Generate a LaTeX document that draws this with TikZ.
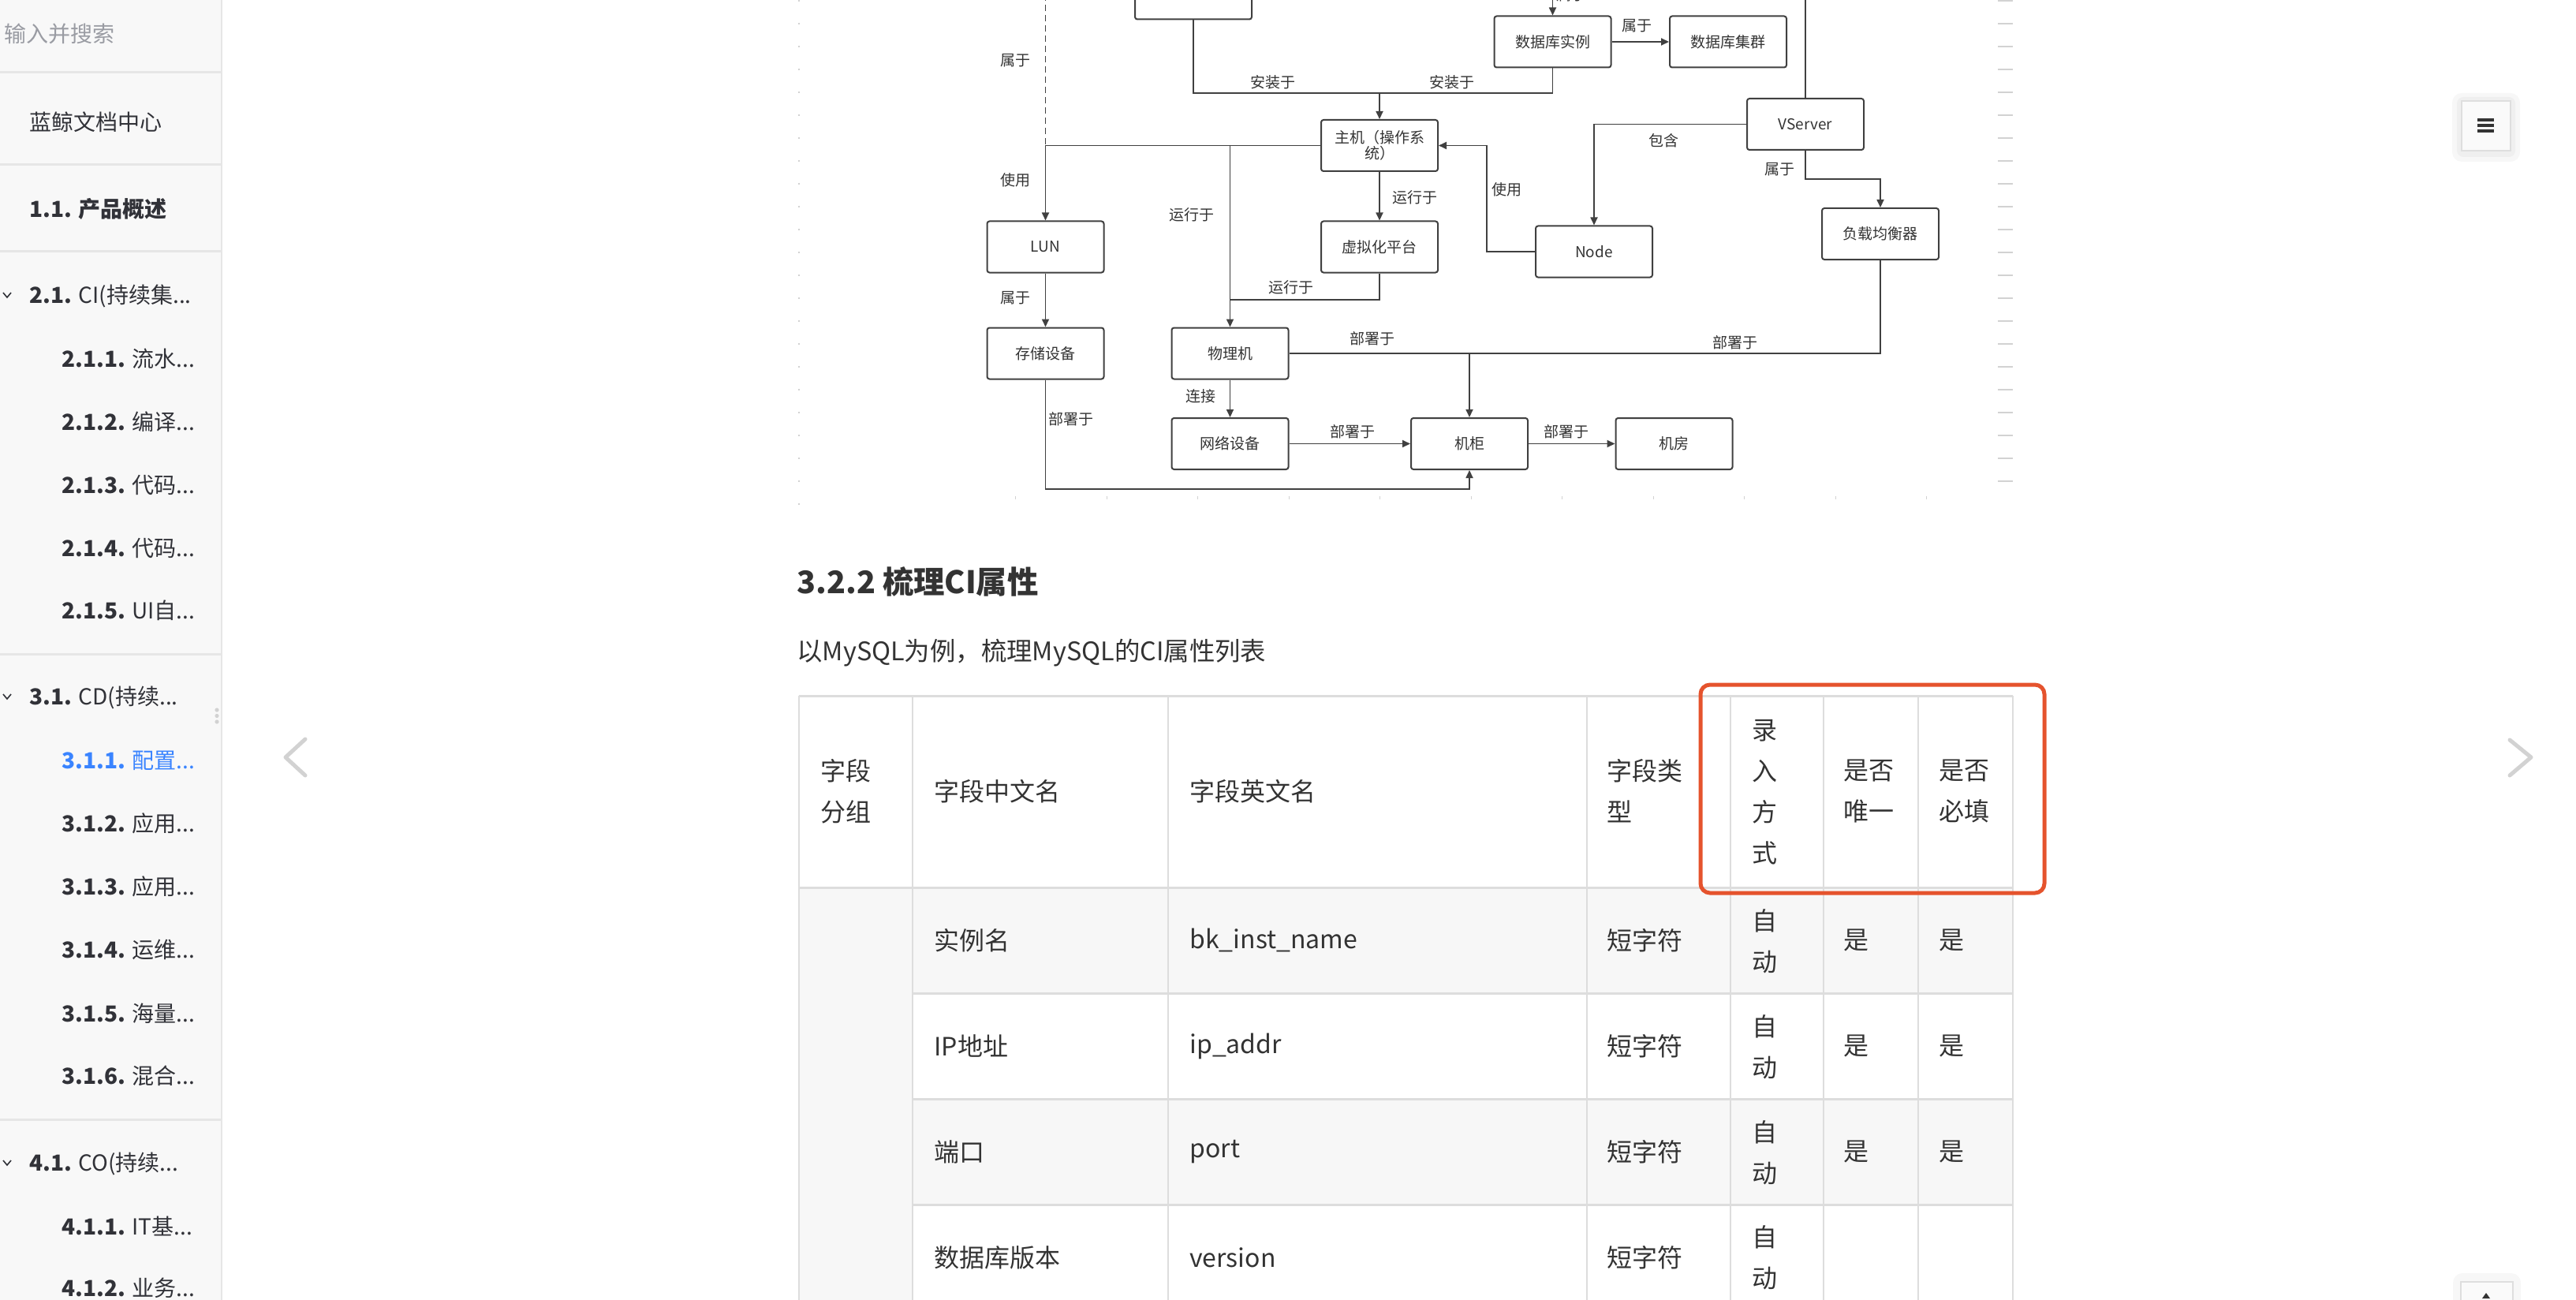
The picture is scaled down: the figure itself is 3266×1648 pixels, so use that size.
\documentclass[tikz,border=0pt]{standalone}
\usepackage{fontspec}
\setmainfont{Noto Sans CJK SC}
\usepackage{xcolor}
\usetikzlibrary{arrows.meta}
\definecolor{linec}{HTML}{404040}
\definecolor{txt}{HTML}{333333}
\definecolor{sidebg}{HTML}{F8F8F8}
\definecolor{sideln}{HTML}{E6E6E6}
\definecolor{sidetxt}{HTML}{313238}
\definecolor{hint}{HTML}{9A9CA3}
\definecolor{activeblue}{HTML}{3A84FF}
\definecolor{rowgray}{HTML}{F7F7F7}
\definecolor{tabline}{HTML}{DDDDDD}
\definecolor{markred}{HTML}{E5532D}
\definecolor{tick}{HTML}{D2D2D2}

\begin{document}
\begin{tikzpicture}[x=0.5pt,y=-0.5pt,
    ent/.style={draw=linec, line width=1pt, rounded corners=1.5pt, minimum width=74pt, minimum height=32.5pt, inner sep=1pt, align=center, text=txt, font=\fontsize{9.5}{8}\selectfont},
    rel/.style={inner sep=0pt, text=txt, font=\fontsize{9.5}{11}\selectfont},
    link/.style={draw=linec, line width=0.9pt},
    arr/.style={link, -{Triangle[length=5pt,width=4.5pt]}},
    side/.style={anchor=west, inner sep=0pt, text=sidetxt, font=\fontsize{14}{16}\selectfont},
    cell/.style={anchor=west, inner sep=0pt, align=left, text=txt, font=\fontsize{16}{26}\selectfont},
    nav/.style={draw=tick, line width=2.5pt, line cap=round, line join=round}]
                \useasboundingbox (0,0) rectangle (3266,1648);
                \clip (0,0) rectangle (3266,1648);

                % sidebar
                \fill [sidebg] (0,0) rectangle (281,1648);
                \draw [sideln, line width=1pt] (281,0) to (281,1648);
                \draw [sideln, line width=1.5pt] (0,92) to (280,92);
                \draw [sideln, line width=1.5pt] (0,209) to (280,209);
                \draw [sideln, line width=1.5pt] (0,319) to (280,319);
                \draw [sideln, line width=1.5pt] (0,829) to (280,829);
                \draw [sideln, line width=1.5pt] (0,1419) to (280,1419);
                \node [side, text=hint] (search) at (5,43) {输入并搜索};
                \node [side] (home) at (37,155) {蓝鲸文档中心};
                \node [side] (s11) at (37,265) {\bfseries 1.1. 产品概述};
                \node [side] (s21) at (37,375) {\bfseries 2.1. \mdseries CI(持续集...};
                \node [side] (s211) at (78,455) {\bfseries 2.1.1. \mdseries 流水...};
                \node [side] (s212) at (78,535) {\bfseries 2.1.2. \mdseries 编译...};
                \node [side] (s213) at (78,615) {\bfseries 2.1.3. \mdseries 代码...};
                \node [side] (s214) at (78,695) {\bfseries 2.1.4. \mdseries 代码...};
                \node [side] (s215) at (78,774) {\bfseries 2.1.5. \mdseries UI自...};
                \node [side] (s31) at (37,884) {\bfseries 3.1. \mdseries CD(持续...};
                \node [side, text=activeblue] (s311) at (78,964) {\bfseries 3.1.1. \mdseries 配置...};
                \node [side] (s312) at (78,1044) {\bfseries 3.1.2. \mdseries 应用...};
                \node [side] (s313) at (78,1124) {\bfseries 3.1.3. \mdseries 应用...};
                \node [side] (s314) at (78,1204) {\bfseries 3.1.4. \mdseries 运维...};
                \node [side] (s315) at (78,1285) {\bfseries 3.1.5. \mdseries 海量...};
                \node [side] (s316) at (78,1364) {\bfseries 3.1.6. \mdseries 混合...};
                \node [side] (s41) at (37,1475) {\bfseries 4.1. \mdseries CO(持续...};
                \node [side] (s411) at (78,1554) {\bfseries 4.1.1. \mdseries IT基...};
                \node [side] (s412) at (78,1633) {\bfseries 4.1.2. \mdseries 业务...};
                \draw [sidetxt, line width=0.8pt] (4,371) to (9,377) to (14,371);
                \draw [sidetxt, line width=0.8pt] (4,880) to (9,886) to (14,880);
                \draw [sidetxt, line width=0.8pt] (4,1471) to (9,1477) to (14,1471);
                \fill [tick] (275,900) circle (1.3pt);
                \fill [tick] (275,907.5) circle (1.3pt);
                \fill [tick] (275,915) circle (1.3pt);

                % page controls
                \draw [nav] (387,937) to (362,960) to (387,983);
                \draw [nav] (3182,938) to (3209,960) to (3182,983);
                \fill [black, opacity=0.03, rounded corners=6pt] (3109,118) rectangle (3195,205);
                \fill [black, opacity=0.03, rounded corners=4pt] (3115,123) rectangle (3189,199);
                \draw [draw=black!13, fill=black!2, line width=1pt] (3121,128) rectangle (3183,191);
                \draw [txt, line width=1.6pt] (3141,152) to (3162,152);
                \draw [txt, line width=1.6pt] (3141,159) to (3162,159);
                \draw [txt, line width=1.6pt] (3141,166) to (3162,166);
                \fill [black, opacity=0.03, rounded corners=6pt] (3110,1614) rectangle (3196,1680);
                \draw [draw=black!13, fill=black!2, line width=1pt] (3120,1625) rectangle (3186,1670);
                \fill [txt] (3152,1639) to (3157,1646) to (3147,1646) to cycle;

                % grid marks of the drawing
                \draw [tick, line width=1pt, dash pattern=on 1pt off 13.5pt] (1013,0) to (1013,640);
                \draw [tick, line width=9.5pt, dash pattern=on 0.8pt off 13.7pt] (2542,0) to (2542,620);
                \draw [tick, line width=2pt, dash pattern=on 0.7pt off 57.05pt] (1287,631) to (2450,631);

                % model diagram
                \node [ent] (mid) at (1513,-8) {};
                \node [ent] (host) at (1749,184.5) {主机（操作系\\统）};
                \node [ent] (virt) at (1749,313) {虚拟化平台};
                \node [ent] (lun) at (1325.5,313) {LUN};
                \node [ent] (store) at (1325.5,448) {存储设备};
                \node [ent] (phys) at (1559.5,448) {物理机};
                \node [ent] (netdev) at (1559.5,562.5) {网络设备};
                \node [ent] (rack) at (1863,562.5) {机柜};
                \node [ent] (room) at (2122.5,562.5) {机房};
                \node [ent] (dbinst) at (1968.5,53) {数据库实例};
                \node [ent] (dbclus) at (2191,53) {数据库集群};
                \node [ent] (vserver) at (2289,157.5) {VServer};
                \node [ent] (knode) at (2021,319) {Node};
                \node [ent] (lb) at (2384,296.5) {负载均衡器};

                \coordinate (topL) at (1325.5,-20);
                \coordinate (topI) at (1968.5,-20);
                \coordinate (topV) at (2289,-20);
                \coordinate (instJ) at (1749,118);
                \coordinate (virtJ) at (1559.5,380);
                \coordinate (useJ) at (1885,184.5);
                \coordinate (rackJ) at (1863,448);
                \coordinate (botJ) at (1863,620);
                \coordinate (lbJ) at (2384,227);

                \draw [link, dash pattern=on 4pt off 2.5pt] (topL) |- (host.west);
                \draw [arr] (host.west) -| (lun.north);
                \draw [arr] (host.west) -| (phys.north);
                \draw [link] (mid.south) |- (instJ);
                \draw [link] (dbinst.south) |- (instJ);
                \draw [arr] (instJ) to (host.north);
                \draw [arr] (host) to (virt);
                \draw [link] (virt.south) |- (virtJ);
                \draw [arr] (lun) to (store);
                \draw [arr] (phys) to (netdev);
                \draw [arr] (netdev) to (rack);
                \draw [arr] (phys.east) -| (rack.north);
                \draw [link] (lb.south) |- (rackJ);
                \draw [arr] (store.south) |- (botJ) to (rack.south);
                \draw [arr] (rack) to (room);
                \draw [arr] (dbinst) to (dbclus);
                \draw [arr] (topI) to (dbinst.north);
                \draw [link] (vserver.north) to (topV);
                \draw [arr] (vserver.west) -| (knode.north);
                \draw [arr] (knode.west) -| (useJ) to (host.east);
                \draw [arr] (vserver.south) |- (lbJ) to (lb.north);

                \node [rel] (lTop) at (1287,77) {属于};
                \node [rel] (lUseLun) at (1287,228) {使用};
                \node [rel] (lLun) at (1287,378) {属于};
                \node [rel] (lStore) at (1358,531) {部署于};
                \node [rel] (lRunPhys) at (1511,272) {运行于};
                \node [rel] (lRunVirt) at (1637,364) {运行于};
                \node [rel] (lHostVirt) at (1794,250) {运行于};
                \node [rel] (lInstA) at (1614,104) {安装于};
                \node [rel] (lInstB) at (1841,104) {安装于};
                \node [rel] (lLink) at (1522,502) {连接};
                \node [rel] (lNet) at (1715,547) {部署于};
                \node [rel] (lPhys) at (1740,429) {部署于};
                \node [rel] (lRack) at (1986,547) {部署于};
                \node [rel] (lLb) at (2200,434) {部署于};
                \node [rel] (lDb) at (2075,33) {属于};
                \node [rel] (lDbTop) at (1992,-6) {属于};
                \node [rel] (lHas) at (2109,178) {包含};
                \node [rel] (lUseNode) at (1910,240) {使用};
                \node [rel] (lVs) at (2256,215) {属于};

                % heading and text
                \node [anchor=west, inner sep=0pt, text=txt, font=\fontsize{19.7}{24}\selectfont\bfseries] (title) at (1010,737) {3.2.2 梳理CI属性};
                \node [anchor=west, inner sep=0pt, text=txt, font=\fontsize{16.2}{20}\selectfont] (intro) at (1010,828) {以MySQL为例，梳理MySQL的CI属性列表};

                % attribute table
                \fill [rowgray] (1013,1125) rectangle (1157,1648);
                \fill [rowgray] (1157,1125) rectangle (2552,1259);
                \fill [rowgray] (1157,1393) rectangle (2552,1527);
                \draw [tabline, line width=0.75pt] (1013,882) to (1013,1648);
                \draw [tabline, line width=0.75pt] (1157,882) to (1157,1648);
                \draw [tabline, line width=0.75pt] (1481,882) to (1481,1648);
                \draw [tabline, line width=0.75pt] (2012,882) to (2012,1648);
                \draw [tabline, line width=0.75pt] (2194,882) to (2194,1648);
                \draw [tabline, line width=0.75pt] (2312,882) to (2312,1648);
                \draw [tabline, line width=0.75pt] (2432,882) to (2432,1648);
                \draw [tabline, line width=0.75pt] (2552,882) to (2552,1648);
                \draw [tabline, line width=1.5pt] (1013,882) to (2552,882);
                \draw [tabline, line width=1.5pt] (1013,1125) to (2552,1125);
                \draw [tabline, line width=1.5pt] (1157,1259) to (2552,1259);
                \draw [tabline, line width=1.5pt] (1157,1393) to (2552,1393);
                \draw [tabline, line width=1.5pt] (1157,1527) to (2552,1527);

                \node [cell] (hGroup) at (1040,1003) {字段\\分组};
                \node [cell] (hCn) at (1184,1003) {字段中文名};
                \node [cell] (hEn) at (1508,1003) {字段英文名};
                \node [cell] (hType) at (2037,1003) {字段类\\型};
                \node [cell] (hInput) at (2221,1004) {录\\入\\方\\式};
                \node [cell] (hUniq) at (2337,1003) {是否\\唯一};
                \node [cell] (hReq) at (2458,1003) {是否\\必填};

                \node [cell] (aCn) at (1184,1192) {实例名};
                \node [cell] (aEn) at (1508,1192) {bk\_inst\_name};
                \node [cell] (aType) at (2037,1192) {短字符};
                \node [cell] (aInput) at (2221,1193) {自\\动};
                \node [cell] (aUniq) at (2337,1192) {是};
                \node [cell] (aReq) at (2458,1192) {是};

                \node [cell] (bCn) at (1184,1326) {IP地址};
                \node [cell] (bEn) at (1508,1326) {ip\_addr};
                \node [cell] (bType) at (2037,1326) {短字符};
                \node [cell] (bInput) at (2221,1327) {自\\动};
                \node [cell] (bUniq) at (2337,1326) {是};
                \node [cell] (bReq) at (2458,1326) {是};

                \node [cell] (cCn) at (1184,1460) {端口};
                \node [cell] (cEn) at (1508,1460) {port};
                \node [cell] (cType) at (2037,1460) {短字符};
                \node [cell] (cInput) at (2221,1461) {自\\动};
                \node [cell] (cUniq) at (2337,1460) {是};
                \node [cell] (cReq) at (2458,1460) {是};

                \node [cell] (dCn) at (1184,1594) {数据库版本};
                \node [cell] (dEn) at (1508,1594) {version};
                \node [cell] (dType) at (2037,1594) {短字符};
                \node [cell] (dInput) at (2221,1594) {自\\动};

                \draw [markred, line width=2.5pt, rounded corners=6pt] (2156,868) rectangle (2592,1132);
            \end{tikzpicture}
\end{document}
